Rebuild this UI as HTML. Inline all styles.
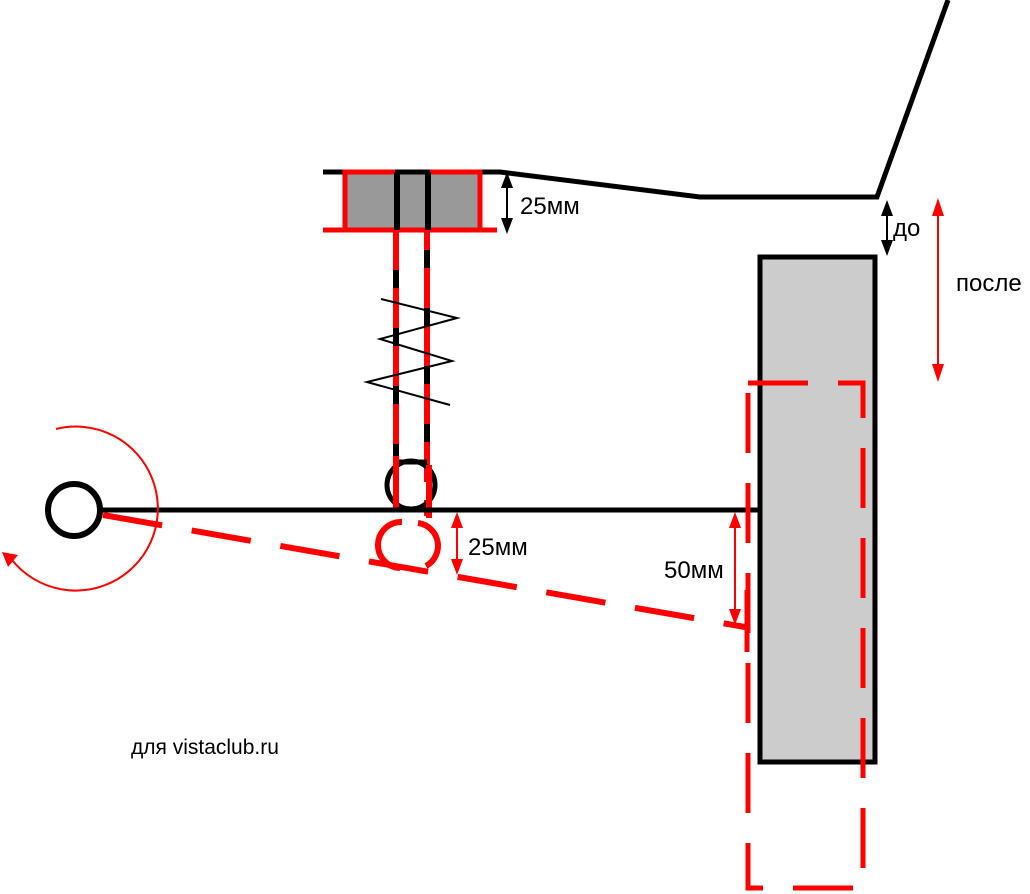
<!DOCTYPE html>
<html><head><meta charset="utf-8"><style>
html,body{margin:0;padding:0;background:#fff;}
svg{display:block;}
text{font-family:"Liberation Sans",sans-serif;}
</style></head><body>
<svg width="1030" height="894" viewBox="0 0 1030 894" xmlns="http://www.w3.org/2000/svg">
<!-- body line -->
<polyline points="323,172 500,172 700,197 877,197 948,0" fill="none" stroke="#000" stroke-width="5"/>
<!-- top mount -->
<rect x="345" y="172" width="135" height="58" fill="#999" stroke="#f00" stroke-width="5"/>
<line x1="323" y1="230" x2="497" y2="230" stroke="#f00" stroke-width="5"/>
<line x1="397" y1="172" x2="397" y2="230" stroke="#000" stroke-width="6"/>
<line x1="428" y1="172" x2="428" y2="230" stroke="#000" stroke-width="6"/>
<line x1="395" y1="172" x2="430" y2="172" stroke="#000" stroke-width="5"/>
<!-- top dim 25 -->
<line x1="507" y1="186" x2="507" y2="220" stroke="#000" stroke-width="2"/>
<path d="M501,188 L507,172 L513,188 z M501,218 L507,234 L513,218 z" fill="#000"/>
<text x="520" y="214" font-size="24">25мм</text>
<!-- strut rods -->
<line x1="396" y1="230" x2="396" y2="462" stroke="#000" stroke-width="6"/>
<line x1="427" y1="230" x2="427" y2="462" stroke="#000" stroke-width="6"/>
<line x1="396" y1="230" x2="396" y2="508" stroke="#f00" stroke-width="6" stroke-dasharray="40,18"/>
<line x1="427" y1="230" x2="427" y2="516" stroke="#f00" stroke-width="6" stroke-dasharray="40,18" stroke-dashoffset="20"/>
<line x1="396" y1="462" x2="427" y2="462" stroke="#000" stroke-width="5"/>
<!-- spring -->
<polyline points="381,299 457,318 380,339 452,361 367,382 450,405" fill="none" stroke="#000" stroke-width="2"/>
<!-- lower mount circle -->
<circle cx="411" cy="485" r="24" fill="none" stroke="#000" stroke-width="5"/>
<line x1="396" y1="456" x2="396" y2="508" stroke="#f00" stroke-width="6"/>
<line x1="429" y1="465" x2="429" y2="518" stroke="#f00" stroke-width="6"/>
<!-- lever -->
<line x1="100" y1="510" x2="762" y2="510" stroke="#000" stroke-width="5"/>
<circle cx="74" cy="510" r="26" fill="#fff" stroke="#000" stroke-width="6"/>
<!-- red dashed lever -->
<line x1="103" y1="515" x2="745" y2="627" stroke="#f00" stroke-width="6" stroke-dasharray="60,30"/>
<line x1="747" y1="590" x2="747" y2="652" stroke="#f00" stroke-width="5"/>
<!-- red broken circle -->
<path d="M402,522 A23,23 0 0 0 400,568" fill="none" stroke="#f00" stroke-width="6"/>
<path d="M418,523 A23,23 0 0 1 426,566" fill="none" stroke="#f00" stroke-width="6"/>
<!-- rotation arc -->
<path d="M56,429 A82,82 0 1 1 12,560" fill="none" stroke="#f00" stroke-width="2"/>
<path d="M2,552 L18,555 L8,567 z" fill="#f00"/>
<!-- dim 25 lower -->
<line x1="457" y1="525" x2="457" y2="562" stroke="#f00" stroke-width="2"/>
<path d="M451,528 L457,512 L463,528 z M451,559 L457,575 L463,559 z" fill="#f00"/>
<text x="468" y="555" font-size="24">25мм</text>
<!-- dim 50 -->
<line x1="735" y1="525" x2="735" y2="612" stroke="#f00" stroke-width="2"/>
<path d="M729,528 L735,512 L741,528 z M729,609 L735,625 L741,609 z" fill="#f00"/>
<text x="664" y="578" font-size="24">50мм</text>
<!-- wheel -->
<rect x="760" y="257" width="115" height="505" fill="#ccc" stroke="#000" stroke-width="5"/>
<!-- dashed wheel -->
<path d="M748,383 L863,383 L863,888 L748,888 Z" fill="none" stroke="#f00" stroke-width="5" stroke-dasharray="60,30"/>
<!-- до -->
<line x1="887" y1="212" x2="887" y2="244" stroke="#000" stroke-width="2"/>
<path d="M881,216 L887,200 L893,216 z M881,240 L887,256 L893,240 z" fill="#000"/>
<text x="893" y="236" font-size="24">до</text>
<!-- после -->
<line x1="938" y1="212" x2="938" y2="366" stroke="#f00" stroke-width="2"/>
<path d="M932,216 L938,198 L944,216 z M932,364 L938,382 L944,364 z" fill="#f00"/>
<text x="956" y="291" font-size="24">после</text>
<text x="131" y="754" font-size="21">для vistaclub.ru</text>
</svg>
</body></html>
